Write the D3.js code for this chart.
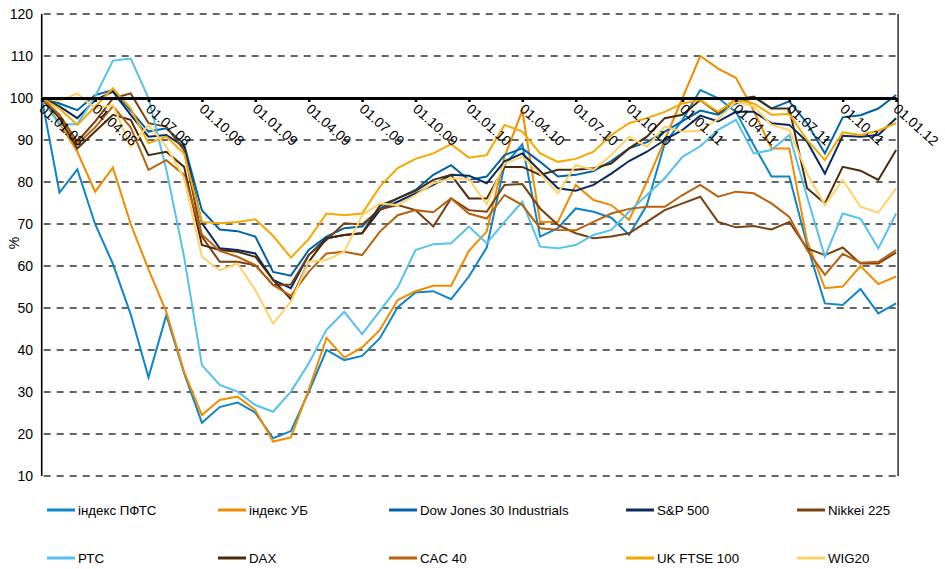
<!DOCTYPE html>
<html>
<head>
<meta charset="utf-8">
<script src="https://cdn.jsdelivr.net/npm/d3@7"></script>
<style>
  body { margin: 0; background: #fff; }
  text { font-family: "Liberation Sans", Arial, sans-serif; fill: #000; }
</style>
</head>
<body>
<div id="chart"></div>
<script>
const width = 945;
const height = 569;

// monthly points 01.01.08 .. 01.01.12
const months = d3.range(49);
const tickLabels = ['01.01.08', '01.04.08', '01.07.08', '01.10.08', '01.01.09', '01.04.09', '01.07.09', '01.10.09',
  '01.01.10', '01.04.10', '01.07.10', '01.10.10', '01.01.11', '01.04.11', '01.07.11', '01.10.11', '01.01.12'];
const yTicks = [10, 20, 30, 40, 50, 60, 70, 80, 90, 100, 110, 120];

const names = ['індекс ПФТС', 'індекс УБ', 'Dow Jones 30 Industrials', 'S&P 500', 'Nikkei 225',
  'РТС', 'DAX', 'CAC 40', 'UK FTSE 100', 'WIG20'];
const colors = ['#0f86c8', '#f08c00', '#0063a6', '#0b2a5c', '#7b4010',
  '#55c1ec', '#4a2c0c', '#b8620e', '#f5a800', '#ffd268'];

const pfts = [100, 77.5, 83, 70, 60.5, 48.5, 33.5, 48.3, 34.5, 22.7, 26.4, 27.5, 25.1, 19, 20.7, 30, 40, 37.6, 38.6, 42.8,
  50.2, 53.7, 54, 52.1, 57.5, 64.4, 84, 89, 67, 69, 73.7, 72.9, 71.5, 67.4, 74.5, 89.2, 94.8, 101.9, 100, 96.7,
  88.8, 81.3, 81.3, 65, 51.1, 50.7, 54.5, 48.7, 51.1];
const ub = [100, 94, 87.2, 77.7, 83.4, 70, 59.2, 49.1, 34.8, 24.5, 28.1, 28.9, 25.7, 18.2, 19.2, 30.5, 42.9, 38.2, 40.6, 44.8,
  51.9, 54, 55.3, 55.3, 63.6, 68.2, 86, 97, 70.5, 70.5, 79.3, 75.7, 74.5, 71, 80.1, 90, 100, 110, 107, 104.8,
  97, 88, 88, 66, 54.7, 55.1, 60, 55.7, 57.5];
const dow = [100, 98.7, 97.1, 100.7, 101.9, 97, 92, 92.8, 89, 73.3, 68.7, 68.3, 67, 58.6, 57.7, 63.8, 67, 69, 69.4, 73.7,
  76.1, 78.1, 81.7, 84, 80.5, 81.3, 86.4, 88, 84.8, 81.3, 81.7, 82.6, 85, 88, 89.5, 92, 94.5, 97, 96, 98.7,
  100.3, 97.5, 99.2, 94, 86.8, 95.4, 95.9, 97.5, 100.7];
const sp500 = [100, 98, 95.2, 99.5, 101.5, 96, 90.8, 91.2, 88.4, 70.2, 64.2, 63.8, 63, 56.7, 54.7, 62.6, 66.6, 67.4, 67.8, 73.3,
  75.3, 77.3, 79.3, 81.7, 81.5, 79.7, 84.9, 86.8, 82.6, 78.5, 77.9, 79.3, 82, 85, 87.2, 90, 92.4, 95.8, 94.4, 96.7,
  96.7, 94, 93.6, 89.6, 82, 91, 90.8, 91.2, 95.2];
const nikkei = [100, 96, 89.6, 94.4, 99.9, 101.1, 94, 93.2, 87.6, 67, 61, 61, 60.2, 55.5, 55.6, 62.6, 66.2, 70.2, 69.9, 73.5,
  74.5, 73.3, 69.4, 76.1, 73.3, 72.9, 79.3, 79.5, 73.7, 69.8, 67.8, 66.6, 67, 67.8, 70.5, 73.3, 74.9, 76.5, 70.5, 69.2,
  69.5, 68.7, 70.5, 64.2, 62.6, 64.4, 60.6, 60.6, 63.2];
const rts = [100, 93.6, 93.8, 100.3, 108.9, 109.4, 100, 83, 62.2, 36.4, 31.7, 30.1, 26.9, 25.3, 30.1, 36.8, 44.8, 49.1, 43.8, 49.3,
  54.9, 63.8, 65.2, 65.4, 69.4, 65.4, 70.5, 75.3, 64.6, 64.2, 65, 67.4, 68.6, 72.9, 76.9, 80.9, 86, 88.5, 92.4, 94.8,
  86.8, 87.6, 91.2, 76.5, 62.2, 72.5, 71.3, 64.2, 72.5];
const dax = [100, 95.2, 88, 92, 96, 94.8, 86.4, 87.2, 83.6, 65, 63.8, 63.4, 62.2, 56.7, 52.1, 61, 66.6, 67.4, 67.8, 74.4,
  76.1, 77.9, 80.5, 81.7, 76.1, 76.1, 83.6, 83.6, 81.7, 82.9, 82.9, 83.3, 84.4, 88, 90.8, 95.2, 96, 99.5, 96.4, 99.7,
  100.3, 97.5, 97.5, 78.5, 74.9, 83.6, 82.7, 80.5, 87.6];
const cac40 = [100, 96, 89, 93, 98, 93, 82.9, 85.2, 81.7, 67.5, 63.6, 62.2, 60.2, 55.5, 52.9, 58.6, 63, 63.4, 62.6, 68.2,
  72.1, 73.3, 72.8, 76.1, 72.5, 71.3, 76.9, 74.5, 69, 68.6, 68.5, 70.5, 72.5, 73.6, 74.1, 74.1, 76.9, 79.3, 76.5, 77.7,
  77.3, 74.9, 71.7, 63.8, 57.9, 62.9, 60.8, 61, 63.8];
const ftse = [100, 97.5, 93.6, 97.9, 102.3, 97.5, 89.2, 90.8, 86.8, 70.5, 70.2, 70.5, 71.1, 67.2, 62, 66.4, 72.5, 72.1, 72.5, 78.9,
  83.3, 85.5, 86.8, 89, 85.8, 86.4, 93.6, 92, 86.8, 84.8, 85.5, 87.2, 91.2, 94, 95.2, 96.7, 98.7, 99.5, 96.7, 99.6,
  98.7, 96, 96.2, 90, 85.2, 91.8, 91.2, 92.2, 94];
const wig20 = [100, 99.3, 101.1, 97.5, 98.3, 88.4, 93.6, 88.4, 80.9, 62.2, 59, 60.6, 54.3, 46.3, 51.5, 61, 61.4, 63.4, 72.1, 74.9,
  74.5, 76.9, 79.7, 80.9, 80.7, 74.7, 84.4, 86, 82, 77.3, 84, 82.9, 86.4, 90.8, 88.4, 93.2, 92, 92.2, 95, 99.1,
  98, 93.6, 92.4, 82, 74.5, 80.5, 74.1, 72.7, 78.5];

const seriesValues = [pfts, ub, dow, sp500, nikkei, rts, dax, cac40, ftse, wig20];

const plotLeft = 41.7;
const plotRight = 896.1;
const plotTop = 14;
const plotBottom = 476;

const x = d3.scalePoint().domain(months).range([plotLeft, plotRight]);
const y = d3.scaleLinear().domain([10, 120]).range([plotBottom, plotTop]);

const svg = d3.select('#chart').append('svg')
  .attr('width', width)
  .attr('height', height);

// dashed grid
svg.append('g')
  .selectAll('line')
  .data(yTicks.filter((d) => d !== 100))
  .enter()
  .append('line')
  .attr('x1', plotLeft)
  .attr('x2', plotRight + 2)
  .attr('y1', (d) => y(d))
  .attr('y2', (d) => y(d))
  .attr('stroke', '#333')
  .attr('stroke-width', 1.5)
  .attr('stroke-dasharray', '7,6')
  .attr('stroke-dashoffset', -2);

// left axis and right border
svg.append('line')
  .attr('x1', plotLeft).attr('x2', plotLeft)
  .attr('y1', plotTop).attr('y2', plotBottom)
  .attr('stroke', '#000').attr('stroke-width', 1.6);
svg.append('line')
  .attr('x1', plotRight + 2).attr('x2', plotRight + 2)
  .attr('y1', plotTop).attr('y2', plotBottom)
  .attr('stroke', '#222').attr('stroke-width', 1.4);

// y labels
svg.append('g')
  .selectAll('text')
  .data(yTicks)
  .enter()
  .append('text')
  .attr('x', 33)
  .attr('y', (d) => y(d))
  .attr('dy', '0.36em')
  .attr('text-anchor', 'end')
  .style('font-size', '14px')
  .text(String);

svg.append('text')
  .attr('transform', 'translate(19,243) rotate(-90)')
  .attr('text-anchor', 'middle')
  .style('font-size', '14px')
  .text('%');

// series
const line = d3.line()
  .x((d, i) => x(i))
  .y((d) => y(d));

svg.append('g')
  .selectAll('path')
  .data(seriesValues)
  .enter()
  .append('path')
  .attr('d', line)
  .attr('fill', 'none')
  .attr('stroke', (d, i) => colors[i])
  .attr('stroke-width', 2)
  .attr('stroke-linejoin', 'miter');

// x axis sits on the 100 line
const quarterIdx = tickLabels.map((d, i) => i * 3);
const xAxis = svg.append('g')
  .attr('transform', `translate(0,${y(100)})`)
  .call(d3.axisBottom(x).tickValues(quarterIdx).tickSize(4).tickSizeOuter(0).tickFormat(''));
xAxis.select('.domain').attr('stroke', '#000').attr('stroke-width', 3);
xAxis.selectAll('.tick line').attr('stroke', '#000').attr('stroke-width', 2.6);

svg.append('g')
  .selectAll('text')
  .data(tickLabels)
  .enter()
  .append('text')
  .attr('transform', (d, i) => `translate(${x(quarterIdx[i]) + 4},${y(100) + 4}) rotate(42)`)
  .attr('dy', '0.8em')
  .style('font-size', '14px')
  .text(String);

// legend
const legendCols = [47, 218, 389, 626, 797];
const legendRows = [510, 558];
const legend = svg.append('g')
  .selectAll('g')
  .data(names)
  .enter()
  .append('g')
  .attr('transform', (d, i) => `translate(${legendCols[i % 5]},${legendRows[Math.floor(i / 5)]})`);

legend.append('line')
  .attr('x1', 0).attr('x2', 28)
  .attr('stroke', (d, i) => colors[i])
  .attr('stroke-width', 3);

legend.append('text')
  .attr('x', 31)
  .attr('dy', '0.36em')
  .style('font-size', '13.3px')
  .text(String);
</script>
</body>
</html>
